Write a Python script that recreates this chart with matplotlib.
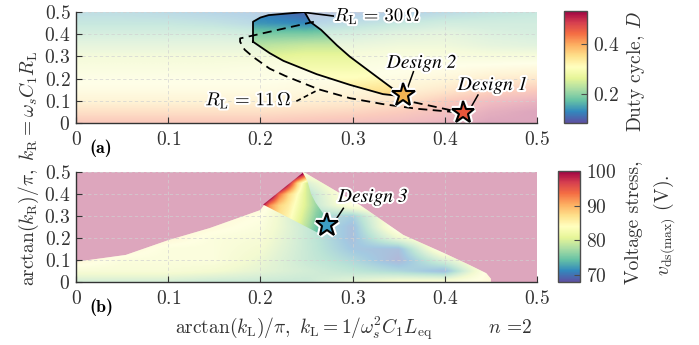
import numpy as np
import matplotlib
matplotlib.use('Agg')
import matplotlib.pyplot as plt
from matplotlib.patches import Polygon
from matplotlib.colors import Normalize, to_rgb
from matplotlib.ticker import FuncFormatter
from matplotlib.cm import ScalarMappable
import matplotlib.patheffects as pe

plt.rcParams['mathtext.fontset'] = 'cm'
plt.rcParams['font.family'] = ['cmr10', 'DejaVu Serif']
plt.rcParams['axes.unicode_minus'] = False

# ---------------- data ----------------
grid_x = [0.0, 0.05, 0.10, 0.15, 0.20, 0.25, 0.30, 0.35, 0.40, 0.45, 0.50]
grid_y = [0.0, 0.05, 0.10, 0.15, 0.20, 0.25, 0.30, 0.35, 0.40, 0.45, 0.50]

# duty cycle D, rows from kR=0 (bottom) to 0.5 (top)
duty_D = [
    [0.45, 0.45, 0.45, 0.45, 0.45, 0.46, 0.47, 0.48, 0.50, 0.53, 0.53],
    [0.40, 0.40, 0.40, 0.40, 0.40, 0.41, 0.42, 0.44, 0.47, 0.51, 0.53],
    [0.35, 0.35, 0.35, 0.35, 0.35, 0.36, 0.37, 0.39, 0.44, 0.48, 0.50],
    [0.32, 0.32, 0.32, 0.32, 0.32, 0.33, 0.34, 0.35, 0.38, 0.42, 0.44],
    [0.30, 0.30, 0.30, 0.30, 0.30, 0.31, 0.31, 0.32, 0.34, 0.37, 0.38],
    [0.28, 0.28, 0.28, 0.28, 0.29, 0.29, 0.29, 0.30, 0.31, 0.32, 0.33],
    [0.26, 0.26, 0.26, 0.26, 0.26, 0.27, 0.27, 0.28, 0.28, 0.27, 0.27],
    [0.23, 0.23, 0.23, 0.23, 0.23, 0.24, 0.24, 0.25, 0.25, 0.23, 0.22],
    [0.20, 0.20, 0.20, 0.20, 0.19, 0.19, 0.20, 0.22, 0.23, 0.21, 0.20],
    [0.17, 0.17, 0.17, 0.16, 0.14, 0.13, 0.15, 0.17, 0.19, 0.19, 0.19],
    [0.15, 0.15, 0.14, 0.13, 0.12, 0.10, 0.11, 0.12, 0.14, 0.16, 0.17],
]

# voltage stress v_ds(max) in V, rows from kR=0 to 0.5
stress_V = [
    [77, 77, 77, 76, 76, 76, 79, 82, 83, 85, 86],
    [82, 82, 82, 81, 79, 77, 75, 73, 70, 86, 86],
    [86, 83, 83, 83, 80, 76, 73, 69, 78, 86, 86],
    [86, 86, 83, 83, 81, 76, 71, 70, 86, 86, 86],
    [86, 86, 86, 83, 82, 76, 70, 80, 86, 86, 86],
    [86, 86, 86, 85, 83, 76, 70, 86, 86, 86, 86],
    [86, 86, 86, 86, 84, 75, 72, 86, 86, 86, 86],
    [86, 86, 86, 86, 86, 74, 84, 86, 86, 86, 86],
    [86, 86, 86, 86, 86, 74, 86, 86, 86, 86, 86],
    [86, 86, 86, 86, 86, 78, 86, 86, 86, 86, 86],
    [86, 86, 86, 86, 86, 84, 86, 86, 86, 86, 86],
]

# finer reading of the fully-coloured (feasible) patch in panel (b)
dot_x = [0.20, 0.21, 0.22, 0.23, 0.24, 0.25, 0.26, 0.27, 0.28]
dot_y = [0.20, 0.25, 0.30, 0.35, 0.40, 0.45, 0.50]
dot_V = [
    [90, 87, 85, 83, 80, 77, 74, 72, 71],
    [92, 88, 86, 84, 81, 78, 75, 73, 72],
    [95, 90, 87, 85, 82, 79, 76, 74, 72],
    [102, 92, 88, 86, 83, 80, 77, 75, 73],
    [110, 105, 94, 88, 84, 80, 77, 75, 73],
    [110, 110, 110, 100, 88, 80, 77, 75, 73],
    [110, 110, 110, 110, 108, 100, 84, 78, 74],
]

# R_L = 30 ohm boundary (solid)
rl30_x = [0.192, 0.192, 0.200, 0.209, 0.248, 0.254, 0.266, 0.283, 0.297, 0.326, 0.348, 0.355,
          0.348, 0.333, 0.297, 0.261, 0.246, 0.225, 0.210]
rl30_y = [0.366, 0.456, 0.475, 0.486, 0.500, 0.456, 0.419, 0.350, 0.299, 0.209, 0.141, 0.128,
          0.123, 0.130, 0.172, 0.220, 0.245, 0.280, 0.315]

# R_L = 11 ohm boundary (dashed)
rl11_x = [0.258, 0.178, 0.178, 0.183, 0.192, 0.210, 0.227, 0.263, 0.297, 0.333, 0.370, 0.406,
          0.420, 0.406, 0.385, 0.362, 0.352]
rl11_y = [0.456, 0.381, 0.366, 0.330, 0.298, 0.245, 0.212, 0.152, 0.112, 0.085, 0.064, 0.051,
          0.046, 0.058, 0.077, 0.097, 0.112]

# panel (b): region below 100 V and fully coloured patch
valid_x = [0.0, 0.0, 0.054, 0.10, 0.145, 0.20, 0.205, 0.247, 0.308, 0.355, 0.40, 0.427, 0.445,
           0.45, 0.45]
valid_y = [0.0, 0.092, 0.123, 0.19, 0.245, 0.327, 0.355, 0.500, 0.35, 0.214, 0.13, 0.077, 0.04,
           0.015, 0.0]
patch_x = [0.203, 0.246, 0.251, 0.255, 0.260, 0.265, 0.270, 0.275, 0.275, 0.265]
patch_y = [0.352, 0.497, 0.460, 0.400, 0.360, 0.330, 0.300, 0.270, 0.235, 0.218]

designs_x = [0.420, 0.355]
designs_y = [0.048, 0.126]
designs_c = ['#e8553a', '#f2b352']
design3_x, design3_y = 0.272, 0.259

ticks = [0, 0.1, 0.2, 0.3, 0.4, 0.5]
D_range = (0.085, 0.53)
V_range = (68, 100)

# ---------------- figure ----------------
cmap = plt.get_cmap('Spectral_r')
fade = 0.35
fade_b = 0.45
fig = plt.figure(figsize=(6.99, 3.45), dpi=100)
ax1 = fig.add_axes([0.1087, 0.6435, 0.6595, 0.3217])
ax2 = fig.add_axes([0.1087, 0.1826, 0.6595, 0.3188])

fmt = FuncFormatter(lambda v, p: f'${v:g}$')
txtc = '0.2'


def style(ax):
    ax.set_xlim(0, 0.5)
    ax.set_ylim(0, 0.5)
    for s in ['top', 'right']:
        ax.spines[s].set_visible(False)
    for s in ['left', 'bottom']:
        ax.spines[s].set_color('0.2')
        ax.spines[s].set_linewidth(1.0)
        ax.spines[s].set_zorder(10)
    ax.set_xticks(ticks)
    ax.set_yticks(ticks)
    ax.xaxis.set_major_formatter(fmt)
    ax.yaxis.set_major_formatter(fmt)
    ax.tick_params(direction='in', length=4, width=0.8, labelsize=14, colors='0.2',
                   labelcolor=txtc)
    ax.tick_params(axis='x', pad=6)
    ax.tick_params(axis='y', pad=4)
    ax.grid(True, ls=(0, (4, 3)), color='0.82', lw=0.6, alpha=0.8, zorder=3)
    ax.set_axisbelow(False)


def extent(xs, ys):
    dx = (xs[1] - xs[0]) / 2
    dy = (ys[1] - ys[0]) / 2
    return (xs[0] - dx, xs[-1] + dx, ys[0] - dy, ys[-1] + dy)


# ---- panel (a) ----
Dn = Normalize(*D_range)
D = np.array(duty_D)
ax1.imshow(D, origin='lower', extent=extent(grid_x, grid_y), cmap=cmap, norm=Dn,
           interpolation='bilinear', interpolation_stage='data', alpha=fade, aspect='auto', zorder=1)
im_full = ax1.imshow(D, origin='lower', extent=extent(grid_x, grid_y), cmap=cmap, norm=Dn,
                     interpolation='bilinear', interpolation_stage='data', aspect='auto', zorder=4)
poly30 = Polygon(np.column_stack([rl30_x, rl30_y]), closed=True, transform=ax1.transData)
im_full.set_clip_path(poly30)
style(ax1)

ax1.plot(rl30_x + [rl30_x[0]], rl30_y + [rl30_y[0]], color='k', lw=1.3, zorder=6)
ax1.plot(rl11_x, rl11_y, color='k', lw=1.3, ls=(0, (5, 3)), zorder=6)

halo = [pe.withStroke(linewidth=3, foreground='white')]
ax1.plot([0.250, 0.279], [0.497, 0.482], color='k', lw=1.2, zorder=6)
ax1.text(0.280, 0.484, r'$R_\mathrm{L}\,=\,30\,\Omega$', fontsize=13.5, va='center', ha='left',
         color='k', zorder=8, path_effects=halo)
ax1.plot([0.239, 0.263], [0.098, 0.150], color='k', lw=1.2, ls=(0, (3, 2)), zorder=6)
ax1.text(0.234, 0.104, r'$R_\mathrm{L}\,=\,11\,\Omega$', fontsize=13.5, va='center', ha='right',
         color='k', zorder=8, path_effects=halo)

# design labels
ax1.plot([0.366, 0.359], [0.231, 0.150], color='k', lw=1.1, zorder=7)
ax1.plot([0.436, 0.429], [0.126, 0.075], color='k', lw=1.1, zorder=7)
ax1.text(0.375, 0.272, 'Design 2', fontsize=14, family='STIXGeneral', style='italic',
         ha='center', va='center', zorder=8, path_effects=halo)
ax1.text(0.452, 0.172, 'Design 1', fontsize=14, family='STIXGeneral', style='italic',
         ha='center', va='center', zorder=8, path_effects=halo)
star_pe = [pe.withStroke(linewidth=4.5, foreground='white')]
for xs, ys, c in zip(designs_x, designs_y, designs_c):
    ax1.plot(xs, ys, marker='*', ms=17, mfc=c, mec='k', mew=1.5, zorder=9, path_effects=star_pe)

ax1.text(0.0272, -0.075, '(a)', fontsize=13, family='cmb10', ha='center', va='top', color='k')

# ---- panel (b) ----
Vn = Normalize(*V_range)
pink = tuple(np.array(to_rgb('white')) * (1 - fade) + np.array(cmap(1.0)[:3]) * fade)
ax2.set_facecolor(pink)
ax2.add_patch(Polygon(np.column_stack([valid_x, valid_y]), closed=True, facecolor='white',
                      edgecolor='none', zorder=0.5))
V = np.array(stress_V)
im_bg = ax2.imshow(V, origin='lower', extent=extent(grid_x, grid_y), cmap=cmap, norm=Vn,
                   interpolation='bilinear', interpolation_stage='data', alpha=fade_b, aspect='auto', zorder=1)
poly_valid = Polygon(np.column_stack([valid_x, valid_y]), closed=True, transform=ax2.transData)
im_bg.set_clip_path(poly_valid)
im_dot = ax2.imshow(np.array(dot_V), origin='lower', extent=extent(dot_x, dot_y), cmap=cmap, norm=Vn,
                    interpolation='bilinear', interpolation_stage='data', aspect='auto', zorder=4)
poly_patch = Polygon(np.column_stack([patch_x, patch_y]), closed=True, transform=ax2.transData)
im_dot.set_clip_path(poly_patch)
style(ax2)

ax2.plot([0.290, 0.281], [0.335, 0.278], color='k', lw=1.1, zorder=7)
ax2.text(0.322, 0.388, 'Design 3', fontsize=14, family='STIXGeneral', style='italic',
         ha='center', va='center', zorder=8, path_effects=halo)
ax2.plot(design3_x, design3_y, marker='*', ms=17, mfc='#3d9dc4', mec='k', mew=1.5, zorder=9,
         path_effects=star_pe)
ax2.text(0.0272, -0.075, '(b)', fontsize=13, family='cmb10', ha='center', va='top', color='k')

# ---- colorbars ----
cax1 = fig.add_axes([0.8069, 0.6435, 0.0329, 0.3246])
cb1 = fig.colorbar(ScalarMappable(norm=Dn, cmap=cmap), cax=cax1, ticks=[0.2, 0.4])
cax2 = fig.add_axes([0.7983, 0.1826, 0.0315, 0.3217])
cb2 = fig.colorbar(ScalarMappable(norm=Vn, cmap=cmap), cax=cax2, ticks=[70, 80, 90, 100])
for cb in (cb1, cb2):
    cb.outline.set_edgecolor('0.3')
    cb.outline.set_linewidth(1.0)
    cb.ax.yaxis.set_major_formatter(fmt)
    cb.ax.tick_params(direction='in', length=4, width=0.8, labelsize=14, colors='0.3',
                      labelcolor=txtc, pad=4)

fig.text(636 / 699, 1 - 72 / 345, r'Duty cycle, $D$', rotation=90, fontsize=14,
         ha='center', va='center', color=txtc)
fig.text(634 / 699, 1 - 222 / 345, r'Voltage stress,', rotation=90, fontsize=14,
         ha='center', va='center', color=txtc)
fig.text(664 / 699, 1 - 225 / 345, r'$v_\mathrm{ds(max)}$ (V).', rotation=90, fontsize=14,
         ha='center', va='center', color=txtc)

# ---- axis labels ----
fig.text(29 / 699, 1 - 168 / 345,
         r'$\arctan(k_\mathrm{R})/\pi,\ k_\mathrm{R} = \omega_s C_1 R_\mathrm{L}$',
         rotation=90, fontsize=14, ha='center', va='center', color=txtc)
fig.text(304 / 699, 1 - 328 / 345,
         r'$\arctan(k_\mathrm{L})/\pi,\ k_\mathrm{L} = 1/\omega_s^2 C_1 L_\mathrm{eq}$',
         fontsize=14, ha='center', va='center', color=txtc)
fig.text(510 / 699, 1 - 328 / 345, r'$n$ =2', fontsize=14, ha='center', va='center', color=txtc)

fig.savefig('out.png', dpi=100)
